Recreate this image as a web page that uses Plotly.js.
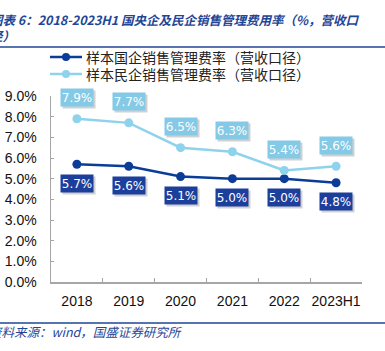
<!DOCTYPE html>
<html>
<head>
<meta charset="utf-8">
<script src="https://cdn.plot.ly/plotly-3.0.1.min.js"></script>
<style>html,body{margin:0;padding:0;background:#fff;}#chart{width:385px;height:351px;}</style>
</head>
<body>
<div id="chart"></div>
<script>
const categories = ["2018", "2019", "2020", "2021", "2022", "2023H1"];
const soeValues = [5.7, 5.6, 5.1, 5.0, 5.0, 4.8];
const privValues = [7.9, 7.7, 6.5, 6.3, 5.4, 5.6];
const seriesNames = ["样本国企销售管理费率（营收口径）", "样本民企销售管理费率（营收口径）"];
const yTickVals = [0, 1, 2, 3, 4, 5, 6, 7, 8, 9];
const yTickText = ["0.0%", "1.0%", "2.0%", "3.0%", "4.0%", "5.0%", "6.0%", "7.0%", "8.0%", "9.0%"];
const titleText = "图表 6：2018-2023H1 国央企及民企销售管理费用率（%，营收口<br>径）";
const sourceText = "资料来源：wind，国盛证券研究所";

const darkColor = "#0b3c97";
const lightColor = "#8fd2ec";
const darkBox = "#1d3f9c";
const lightBox = "#84c9e5";
const seriesColors = [darkColor, lightColor];
const numFont = "DejaVu Sans, Verdana, sans-serif";
const axFont = "Liberation Sans, Arial, sans-serif";
const cjkFont = "Noto Sans CJK SC, sans-serif";

const H = 351, W = 385, ML = 51, MR = 23, MT = 96, MB = 69;
const PW = W - ML - MR, PH = H - MT - MB;
const px2x = p => (p - ML) / PW;
const py2y = p => (H - MB - p) / PH;

const traces = [
  {x: categories, y: soeValues, name: seriesNames[0], type: "scatter", mode: "lines+markers",
   line: {color: darkColor, width: 2.5}, marker: {color: darkColor, size: 9}},
  {x: categories, y: privValues, name: seriesNames[1], type: "scatter", mode: "lines+markers",
   line: {color: lightColor, width: 2.5}, marker: {color: lightColor, size: 9}}
];

const annotations = [];
function addLabels(vals, boxColor, shift) {
  vals.forEach((v, i) => {
    const base = {x: i, y: v, xref: "x", yref: "y", showarrow: false,
      text: v.toFixed(1) + "%", width: 32, height: 17, borderpad: 0};
    annotations.push(Object.assign({}, base, {yshift: shift - 2, xshift: 2,
      bgcolor: "rgba(0,0,0,0.18)", font: {size: 12, color: "rgba(0,0,0,0)", family: numFont}}));
    annotations.push(Object.assign({}, base, {yshift: shift,
      bgcolor: boxColor, font: {size: 12, color: "#ffffff", family: numFont}}));
  });
}
addLabels(privValues, lightBox, 21);
addLabels(soeValues, darkBox, -19);

const shapes = [
  {type: "line", xref: "paper", yref: "paper", x0: px2x(-5), x1: px2x(W + 5), y0: py2y(47), y1: py2y(47),
   line: {color: "#1f4697", width: 1.5}},
  {type: "line", xref: "paper", yref: "paper", x0: px2x(-5), x1: px2x(W + 5), y0: py2y(323), y1: py2y(323),
   line: {color: "#1f4697", width: 1.5}}
];

// manual legend
const legendRows = [57, 74];
seriesNames.forEach((n, k) => {
  const yy = py2y(legendRows[k]);
  shapes.push({type: "line", xref: "paper", yref: "paper", x0: px2x(50), x1: px2x(82), y0: yy, y1: yy,
    line: {color: seriesColors[k], width: 2.5}});
  shapes.push({type: "circle", xref: "paper", yref: "paper", x0: px2x(62), x1: px2x(70),
    y0: py2y(legendRows[k] + 4), y1: py2y(legendRows[k] - 4),
    fillcolor: seriesColors[k], line: {width: 0}});
  annotations.push({xref: "paper", yref: "paper", x: px2x(84), y: yy, xanchor: "left", yanchor: "middle",
    showarrow: false, text: n, font: {family: cjkFont, size: 14, color: "#222222"}});
});

annotations.push({xref: "paper", yref: "paper", x: px2x(-12), y: py2y(27), xanchor: "left", yanchor: "middle",
  align: "left", showarrow: false, text: "<b><i>" + titleText + "</i></b>",
  font: {size: 12.5, color: "#1f4697", family: cjkFont}});
annotations.push({xref: "paper", yref: "paper", x: px2x(-13), y: py2y(331), xanchor: "left", yanchor: "middle",
  align: "left", showarrow: false, text: "<i>" + sourceText + "</i>",
  font: {size: 12.5, color: "#1f4697", family: cjkFont}});

const layout = {
  width: W, height: H,
  margin: {l: ML, r: MR, t: MT, b: MB},
  paper_bgcolor: "#ffffff", plot_bgcolor: "#ffffff",
  showlegend: false,
  xaxis: {type: "category", range: [-0.5, 5.5], showgrid: false, zeroline: false,
    showline: true, linecolor: "#a6a6a6", linewidth: 1.5, tickangle: 0,
    ticks: "inside", tickson: "boundaries", ticklen: 4, tickcolor: "#a6a6a6",
    ticklabelstandoff: 6,
    tickfont: {family: axFont, size: 14, color: "#111111"}},
  yaxis: {range: [0, 9], tickvals: yTickVals, ticktext: yTickText, showgrid: false, zeroline: false,
    showline: true, linecolor: "#a6a6a6", linewidth: 1.5,
    ticks: "inside", ticklen: 3, tickcolor: "#a6a6a6", ticklabelstandoff: 10,
    tickfont: {family: axFont, size: 14, color: "#111111"}},
  annotations: annotations,
  shapes: shapes
};

Plotly.newPlot("chart", traces, layout, {displayModeBar: false, staticPlot: true});
</script>
</body>
</html>
